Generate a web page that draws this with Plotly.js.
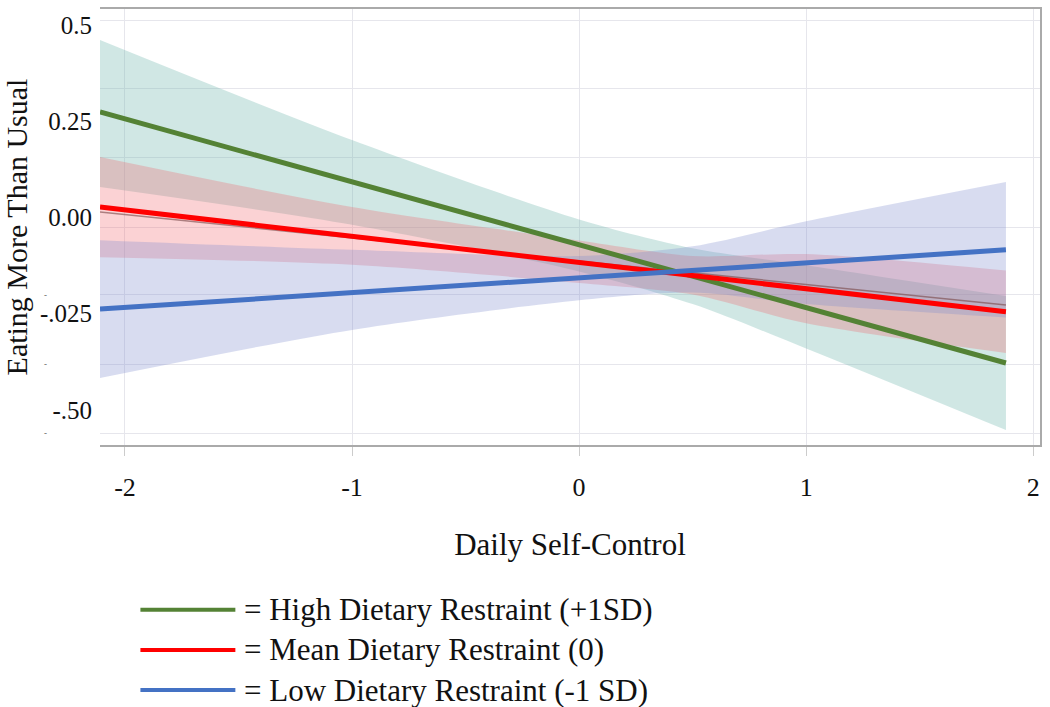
<!DOCTYPE html>
<html>
<head>
<meta charset="utf-8">
<script src="https://cdn.plot.ly/plotly-3.0.1.min.js"></script>
<style>
  body { margin: 0; background: #fff; }
  #chart { width: 1050px; height: 707px; }
</style>
</head>
<body>
<div id="chart"></div>
<script>
// regression lines (Daily Self-Control -> Eating More Than Usual)
let xLine = [-2.11, 1.88];
let highLine = [0.274, -0.378];
let meanLine = [0.027, -0.245];
let lowLine = [-0.238, -0.084];
let meanThin = [0.014, -0.227];   // thin dark line next to the red one

// confidence bands
let xBand = [-2.11, -1, 0, 0.5, 1, 1.88];
let highUpper = [0.461, 0.201, -0.005, -0.08, -0.124, -0.204];
let highLower = [0.079, -0.019, -0.140, -0.225, -0.340, -0.552];
let meanUpper = [0.157, 0.027, -0.06, -0.10, -0.095, -0.138];
let meanLower = [-0.103, -0.123, -0.17, -0.20, -0.275, -0.352];
let lowUpper = [-0.059, -0.084, -0.10, -0.075, -0.01, 0.092];
let lowLower = [-0.417, -0.292, -0.215, -0.195, -0.225, -0.26];

let xTicks = [-2, -1, 0, 1, 2];
let xTickText = ['-2', '-1', '0', '1', '2'];
let yTicks = [0.5, 0.25, 0, -0.25, -0.5];
let yTickText = ['0.5', '0.25', '0.00', '-.025', '-.50'];
let gridY = [0.513, 0.336, 0.157, -0.025, -0.201, -0.381, -0.560];
let dashY = [-0.201, -0.381, -0.560];

let names = ['= High Dietary Restraint (+1SD)', '= Mean Dietary Restraint (0)', '= Low Dietary Restraint (-1 SD)'];
let colors = ['#548235', '#ff0000', '#4472c4'];
let fills = ['rgba(110,180,170,0.32)', 'rgba(240,95,100,0.28)', 'rgba(125,140,205,0.30)'];

let lines = [highLine, meanLine, lowLine];
let uppers = [highUpper, meanUpper, lowUpper];
let lowers = [highLower, meanLower, lowLower];

let traces = [];
// dummy trace so yaxis2 is drawn
traces.push({x: [0], y: [0], yaxis: 'y2', mode: 'markers', marker: {opacity: 0}, hoverinfo: 'skip', showlegend: false});
for (let i = 0; i < 3; i++) {
  traces.push({
    x: xBand, y: lowers[i], type: 'scatter', mode: 'lines',
    line: {width: 0, shape: 'spline', smoothing: 0.8}, hoverinfo: 'skip', showlegend: false
  });
  traces.push({
    x: xBand, y: uppers[i], type: 'scatter', mode: 'lines', fill: 'tonexty',
    fillcolor: fills[i], line: {width: 0, shape: 'spline', smoothing: 0.8},
    hoverinfo: 'skip', showlegend: false
  });
}
traces.push({
  x: xLine, y: meanThin, type: 'scatter', mode: 'lines',
  line: {color: 'rgba(120,70,70,0.6)', width: 1.5}, hoverinfo: 'skip', showlegend: false
});
for (let i = 0; i < 3; i++) {
  traces.push({
    x: xLine, y: lines[i], type: 'scatter', mode: 'lines',
    line: {color: colors[i], width: 5}, name: names[i], showlegend: false
  });
}

let font = 'Liberation Serif';
let yRange = [-0.591, 0.5416];

// legend drawn by hand so the sample lines can be long
let shapes = [];
let annotations = [];
let legendY = [-0.378, -0.470, -0.562];
for (let i = 0; i < 3; i++) {
  shapes.push({
    type: 'line', xref: 'paper', yref: 'paper',
    x0: 0.043, x1: 0.144, y0: legendY[i], y1: legendY[i],
    line: {color: colors[i], width: 4}
  });
  annotations.push({
    xref: 'paper', yref: 'paper', x: 0.151, y: legendY[i],
    xanchor: 'left', yanchor: 'middle', showarrow: false,
    text: names[i], font: {family: font, size: 31, color: '#111'}
  });
}
for (let v of dashY) {
  annotations.push({
    xref: 'paper', yref: 'y2', x: -0.058, y: v, xanchor: 'center', yanchor: 'middle',
    showarrow: false, text: '-', font: {family: font, size: 9, color: '#555'}
  });
}

let layout = {
  width: 1050, height: 707,
  margin: {l: 100, r: 10, t: 9, b: 262},
  paper_bgcolor: '#fff', plot_bgcolor: '#fff',
  font: {family: font, color: '#111'},
  showlegend: false,
  xaxis: {
    range: [-2.11, 2.03], tickvals: xTicks, ticktext: xTickText,
    ticks: 'outside', ticklen: 9, tickcolor: '#ccc', tickwidth: 1,
    ticklabelstandoff: 9,
    tickfont: {family: font, size: 26, color: '#111'},
    showgrid: true, gridcolor: '#e6e6ec', gridwidth: 1,
    zeroline: false, showline: true, mirror: true, linecolor: '#aaa', linewidth: 2,
    title: {text: 'Daily Self-Control', font: {family: font, size: 31, color: '#111'}, standoff: 32}
  },
  yaxis: {
    range: yRange, tickvals: yTicks, ticktext: yTickText,
    ticks: '', showgrid: false, zeroline: false, showline: false,
    ticklabelstandoff: 7,
    tickfont: {family: font, size: 25, color: '#111'},
    title: {text: 'Eating More Than Usual', font: {family: font, size: 30, color: '#111'}, standoff: 8}
  },
  yaxis2: {
    overlaying: 'y', side: 'right', range: yRange,
    tickvals: gridY, showticklabels: false, ticks: '',
    showgrid: true, gridcolor: '#e6e6ec', gridwidth: 1,
    zeroline: false, showline: true, linecolor: '#aaa', linewidth: 2
  },
  shapes: shapes,
  annotations: annotations
};

Plotly.newPlot('chart', traces, layout, {displayModeBar: false});
</script>
</body>
</html>
